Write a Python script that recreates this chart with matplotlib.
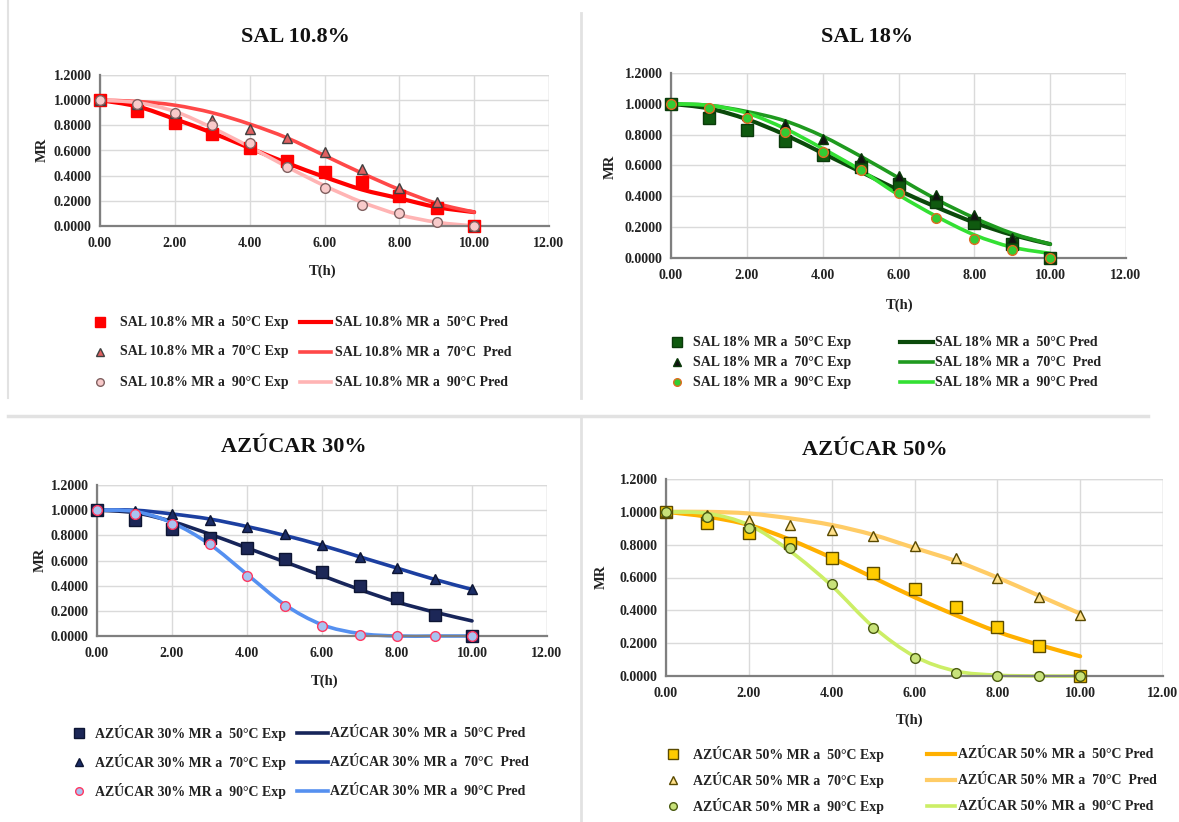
import matplotlib
matplotlib.use("Agg")
import matplotlib.pyplot as plt
from matplotlib.path import Path
from matplotlib.patches import PathPatch
from matplotlib.lines import Line2D

plt.rcParams['font.family'] = ['Liberation Serif', 'DejaVu Serif']
plt.rcParams['font.weight'] = 'bold'

# ---------------- data ----------------
t_h = [0, 1, 2, 3, 4, 5, 6, 7, 8, 9, 10]

sal108_exp_50 = [1.00, 0.91, 0.82, 0.73, 0.62, 0.52, 0.43, 0.35, 0.24, 0.14, 0.00]
sal108_exp_70 = [1.00, 0.97, 0.90, 0.84, 0.77, 0.70, 0.59, 0.45, 0.30, 0.19, 0.00]
sal108_exp_90 = [1.00, 0.97, 0.90, 0.80, 0.66, 0.47, 0.30, 0.17, 0.10, 0.03, 0.00]
sal108_pred_50 = [1.00, 0.95, 0.85, 0.74, 0.62, 0.50, 0.39, 0.29, 0.22, 0.15, 0.11]
sal108_pred_70 = [1.00, 0.99, 0.96, 0.90, 0.81, 0.70, 0.56, 0.42, 0.29, 0.18, 0.11]
sal108_pred_90 = [1.00, 0.98, 0.91, 0.78, 0.63, 0.47, 0.32, 0.19, 0.09, 0.03, 0.00]

sal18_exp_50 = [1.00, 0.91, 0.83, 0.76, 0.67, 0.59, 0.48, 0.36, 0.23, 0.09, 0.00]
sal18_exp_70 = [1.00, 0.97, 0.93, 0.87, 0.77, 0.65, 0.53, 0.41, 0.28, 0.13, 0.00]
sal18_exp_90 = [1.00, 0.97, 0.91, 0.82, 0.69, 0.57, 0.42, 0.26, 0.12, 0.05, 0.00]
sal18_pred_50 = [1.00, 0.97, 0.90, 0.80, 0.68, 0.56, 0.44, 0.33, 0.23, 0.15, 0.09]
sal18_pred_70 = [1.00, 0.99, 0.95, 0.89, 0.79, 0.66, 0.52, 0.38, 0.26, 0.16, 0.09]
sal18_pred_90 = [1.00, 0.99, 0.94, 0.84, 0.71, 0.57, 0.41, 0.27, 0.15, 0.07, 0.03]

az30_exp_50 = [1.00, 0.92, 0.85, 0.78, 0.70, 0.61, 0.51, 0.40, 0.30, 0.17, 0.00]
az30_exp_70 = [1.00, 0.99, 0.97, 0.92, 0.87, 0.81, 0.72, 0.63, 0.54, 0.45, 0.37]
az30_exp_90 = [1.00, 0.97, 0.89, 0.73, 0.48, 0.24, 0.08, 0.01, 0.00, 0.00, 0.00]
az30_pred_50 = [1.00, 0.98, 0.91, 0.81, 0.70, 0.59, 0.48, 0.37, 0.27, 0.19, 0.12]
az30_pred_70 = [1.00, 1.00, 0.97, 0.93, 0.87, 0.80, 0.72, 0.63, 0.54, 0.45, 0.37]
az30_pred_90 = [1.00, 0.99, 0.90, 0.73, 0.49, 0.25, 0.09, 0.02, 0.00, 0.00, 0.00]

az50_exp_50 = [1.00, 0.93, 0.87, 0.81, 0.72, 0.63, 0.53, 0.42, 0.30, 0.18, 0.00]
az50_exp_70 = [1.00, 0.98, 0.95, 0.92, 0.89, 0.85, 0.79, 0.72, 0.60, 0.48, 0.37]
az50_exp_90 = [1.00, 0.97, 0.90, 0.78, 0.56, 0.29, 0.11, 0.02, 0.00, 0.00, 0.00]
az50_pred_50 = [1.00, 0.97, 0.92, 0.83, 0.72, 0.60, 0.48, 0.37, 0.27, 0.19, 0.12]
az50_pred_70 = [1.00, 1.00, 0.99, 0.96, 0.92, 0.86, 0.78, 0.70, 0.60, 0.49, 0.38]
az50_pred_90 = [1.00, 0.99, 0.92, 0.76, 0.55, 0.30, 0.12, 0.03, 0.005, 0.00, 0.00]

titles = ["SAL 10.8%", "SAL 18%", "AZÚCAR 30%", "AZÚCAR 50%"]
exp_labels = [
    ["SAL 10.8% MR a  50°C Exp", "SAL 10.8% MR a  70°C Exp", "SAL 10.8% MR a  90°C Exp"],
    ["SAL 18% MR a  50°C Exp", "SAL 18% MR a  70°C Exp", "SAL 18% MR a  90°C Exp"],
    ["AZÚCAR 30% MR a  50°C Exp", "AZÚCAR 30% MR a  70°C Exp", "AZÚCAR 30% MR a  90°C Exp"],
    ["AZÚCAR 50% MR a  50°C Exp", "AZÚCAR 50% MR a  70°C Exp", "AZÚCAR 50% MR a  90°C Exp"],
]
pred_labels = [
    ["SAL 10.8% MR a  50°C Pred", "SAL 10.8% MR a  70°C  Pred", "SAL 10.8% MR a  90°C Pred"],
    ["SAL 18% MR a  50°C Pred", "SAL 18% MR a  70°C  Pred", "SAL 18% MR a  90°C Pred"],
    ["AZÚCAR 30% MR a  50°C Pred", "AZÚCAR 30% MR a  70°C  Pred", "AZÚCAR 30% MR a  90°C Pred"],
    ["AZÚCAR 50% MR a  50°C Pred", "AZÚCAR 50% MR a  70°C  Pred", "AZÚCAR 50% MR a  90°C Pred"],
]
x_ticks = [0, 2, 4, 6, 8, 10, 12]
y_ticks = [0.0, 0.2, 0.4, 0.6, 0.8, 1.0, 1.2]

exp_data = [
    [sal108_exp_50, sal108_exp_70, sal108_exp_90],
    [sal18_exp_50, sal18_exp_70, sal18_exp_90],
    [az30_exp_50, az30_exp_70, az30_exp_90],
    [az50_exp_50, az50_exp_70, az50_exp_90],
]
pred_data = [
    [sal108_pred_50, sal108_pred_70, sal108_pred_90],
    [sal18_pred_50, sal18_pred_70, sal18_pred_90],
    [az30_pred_50, az30_pred_70, az30_pred_90],
    [az50_pred_50, az50_pred_70, az50_pred_90],
]

# ---------------- styles ----------------
markers = ['s', '^', 'o']
marker_sizes = {'s': 8, '^': 7.5, 'o': 7}
legend_marker_sizes = {'s': 6.5, '^': 5.5, 'o': 5.5}
exp_styles = [
    [('#FF0000', '#FF0000'), ('#E06060', '#404040'), ('#F8CACA', '#806060')],
    [('#0F5A0F', '#0A3A0A'), ('#111111', '#0A3A0A'), ('#33CC33', '#E06A20')],
    [('#1C2757', '#0D1533'), ('#1A2C66', '#0D1533'), ('#A8C3F0', '#FF3860')],
    [('#FFCC00', '#5A4A00'), ('#FFE08A', '#5A4A00'), ('#C8E27A', '#4A5A10')],
]
pred_styles = [
    [('#FF0000', 3.0), ('#FF4848', 2.6), ('#FFB4B4', 2.6)],
    [('#0B4A0B', 3.0), ('#1F9A1F', 2.6), ('#33E033', 2.6)],
    [('#17255A', 2.6), ('#1C3FA0', 2.6), ('#5590F0', 2.6)],
    [('#FFB000', 3.0), ('#FFCC66', 3.0), ('#CCEE66', 2.6)],
]
# panel geometry in pixels: x at 0, x at 12, y at 0, y at 1.2
geom = [
    (100, 549, 226, 75),
    (671, 1126, 258, 73),
    (97, 547, 636, 485),
    (666, 1163, 676, 479),
]
title_pos = [(295, 37), (867, 37), (294, 447), (875, 450)]
th_pos = [(323, 271), (900, 305), (325, 681), (910, 720)]
mr_pos = [(42, 150), (610, 167), (40, 560), (601, 577)]
# legend: marker x, text1 x, line x1, line x2, text2 x, rows y
leg = [
    (100, 120, 300, 331, 335, (322, 352, 382)),
    (677, 693, 900, 933, 935, (342, 362, 382)),
    (79, 95, 297, 328, 330, (733, 762, 791)),
    (673, 693, 927, 955, 958, (754, 780, 806)),
]

W, H = 1179, 822
fig = plt.figure(figsize=(W / 100, H / 100), dpi=100)


def fx(x):
    return x / W


def fy(y):
    return 1 - y / H


def smooth_path(x, y):
    n = len(x)
    verts = [(x[0], y[0])]
    codes = [Path.MOVETO]
    for i in range(n - 1):
        x0, y0 = (x[i - 1], y[i - 1]) if i > 0 else (x[i], y[i])
        x3, y3 = (x[i + 2], y[i + 2]) if i + 2 < n else (x[i + 1], y[i + 1])
        c1 = (x[i] + (x[i + 1] - x0) / 6, y[i] + (y[i + 1] - y0) / 6)
        c2 = (x[i + 1] - (x3 - x[i]) / 6, y[i + 1] - (y3 - y[i]) / 6)
        verts += [c1, c2, (x[i + 1], y[i + 1])]
        codes += [Path.CURVE4] * 3
    return Path(verts, codes)


for p in range(4):
    x0, x12, y0, ytop = geom[p]
    ax = fig.add_axes([fx(x0), fy(y0), (x12 - x0) / W, (y0 - ytop) / H])
    ax.set_xlim(0, 12)
    ax.set_ylim(0, 1.2)
    ax.set_xticks(x_ticks)
    ax.set_yticks(y_ticks)
    ax.set_xticklabels([f"{v:.2f}" for v in x_ticks])
    ax.set_yticklabels([f"{v:.4f}" for v in y_ticks])
    ax.tick_params(length=0, labelsize=10, colors='#222222')
    ax.tick_params(axis='x', pad=8)
    ax.tick_params(axis='y', pad=6)
    for lab in ax.get_xticklabels() + ax.get_yticklabels():
        lab.set_fontweight('bold')
    ax.grid(True, color='#DADADA', lw=1.0)
    ax.set_axisbelow(True)
    for s in ['top', 'right']:
        ax.spines[s].set_visible(False)
    for s in ['left', 'bottom']:
        ax.spines[s].set_color('#7F7F7F')
        ax.spines[s].set_linewidth(1.6)
    ax.axvline(12, color='#DADADA', lw=1.0, zorder=0)
    ax.axhline(1.2, color='#DADADA', lw=1.0, zorder=0)

    for k in range(3):
        col, lw = pred_styles[p][k]
        patch = PathPatch(smooth_path(t_h, pred_data[p][k]), fill=False,
                          edgecolor=col, lw=lw, capstyle='round',
                          joinstyle='round', zorder=2, clip_on=False)
        ax.add_patch(patch)
    for k in range(3):
        fc, ec = exp_styles[p][k]
        ax.plot(t_h, exp_data[p][k], linestyle='none', marker=markers[k],
                markersize=marker_sizes[markers[k]], markerfacecolor=fc,
                markeredgecolor=ec, markeredgewidth=1.0, zorder=3,
                clip_on=False)

    fig.text(fx(title_pos[p][0]), fy(title_pos[p][1]), titles[p], ha='center',
             va='center', fontsize=16, fontweight='bold', color='#111111')
    fig.text(fx(th_pos[p][0]), fy(th_pos[p][1]), "T(h)", ha='center',
             va='center', fontsize=10.5, fontweight='bold', color='#222222')
    fig.text(fx(mr_pos[p][0]), fy(mr_pos[p][1]), "MR", ha='center',
             va='center', fontsize=10.5, fontweight='bold', rotation=90,
             color='#222222')

    mx, tx1, lx1, lx2, tx2, rows = leg[p]
    for k in range(3):
        yy = fy(rows[k])
        fc, ec = exp_styles[p][k]
        fig.add_artist(Line2D([fx(mx)], [yy], marker=markers[k],
                              markersize=legend_marker_sizes[markers[k]],
                              markerfacecolor=fc, markeredgecolor=ec,
                              markeredgewidth=1.0, linestyle='none',
                              transform=fig.transFigure))
        fig.text(fx(tx1), yy, exp_labels[p][k], ha='left', va='center',
                 fontsize=10, fontweight='bold', color='#222222')
        col, lw = pred_styles[p][k]
        fig.add_artist(Line2D([fx(lx1), fx(lx2)], [yy, yy], color=col, lw=lw,
                              transform=fig.transFigure))
        fig.text(fx(tx2), yy, pred_labels[p][k], ha='left', va='center',
                 fontsize=10, fontweight='bold', color='#222222')

# separators between panels
sep = '#E2E2E2'
fig.add_artist(Line2D([fx(581), fx(581)], [fy(13), fy(398)], color=sep, lw=2,
                      transform=fig.transFigure))
fig.add_artist(Line2D([fx(581), fx(581)], [fy(417), fy(822)], color=sep, lw=2,
                      transform=fig.transFigure))
fig.add_artist(Line2D([fx(8), fx(1148)], [fy(416), fy(416)], color=sep, lw=2.5,
                      transform=fig.transFigure))
fig.add_artist(Line2D([fx(8), fx(8)], [fy(0), fy(398)], color=sep, lw=1.5,
                      transform=fig.transFigure))

fig.savefig("out.png", dpi=100, facecolor='white')
